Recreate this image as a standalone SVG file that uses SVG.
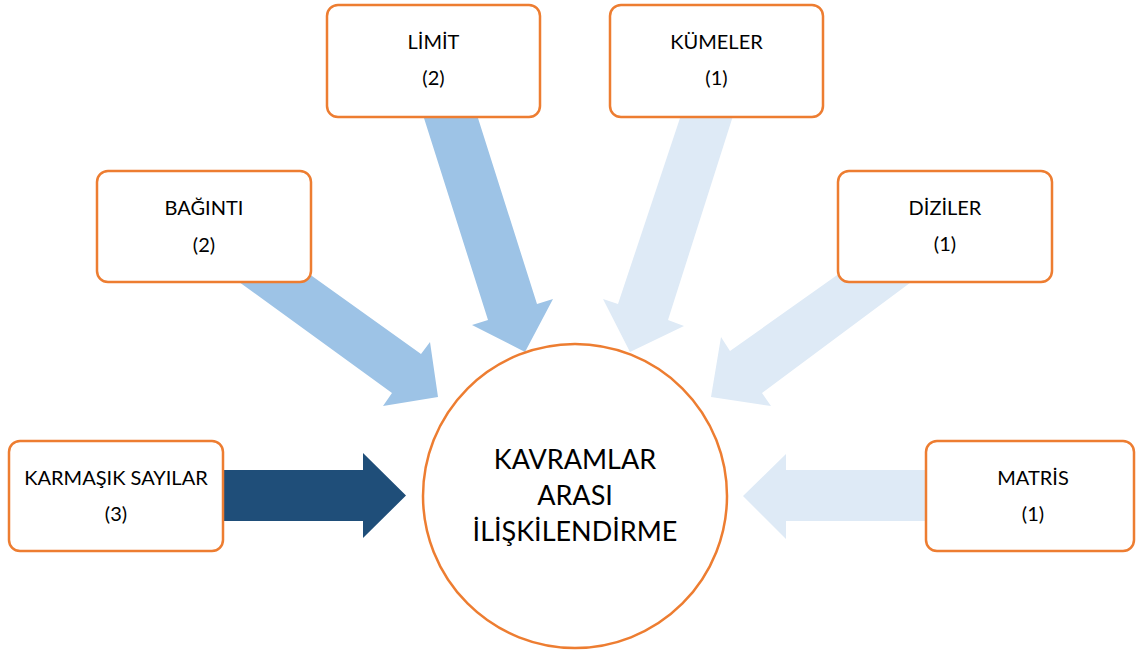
<svg xmlns="http://www.w3.org/2000/svg" width="1136" height="652" viewBox="0 0 1136 652">
  <style>
    .box { fill: #ffffff; stroke: #ED7D31; stroke-width: 2.5; }
    .lbl { font-family: Lato, "Liberation Sans", sans-serif; font-size: 20px; fill: #000000; text-anchor: middle; }
    .big { font-family: Lato, "Liberation Sans", sans-serif; font-size: 27px; fill: #000000; text-anchor: middle; }
    .mid { fill: #9DC3E6; }
    .light { fill: #DEEAF6; }
    .dark { fill: #1F4E79; }
  </style>

  <!-- block arrows pointing at the centre -->
  <g id="connectors">
    <polygon class="dark" points="215,470 363,470 363,453 406,495.5 363,538 363,521 215,521"/>
    <polygon class="light" points="935,470 786,470 786,454 743,496 786,539 786,521 935,521"/>
    <polygon class="mid" points="298,266 421,354 430,342 438,397 383,406 392,393 228,274"/>
    <polygon class="mid" points="417,96 471,96 537,304 553,299 525,352 472,325 488,320"/>
    <polygon class="light" points="687,97 739,97 668,320 684,326 630,352 603,299 618,304"/>
    <polygon class="light" points="857,261 930,268 762,393 771,406 711,397 721,337 730,351"/>
  </g>

  <g id="node-limit">
    <rect class="box" x="327" y="5" width="213" height="112" rx="11"/>
    <text class="lbl" x="433.5" y="49">LİMİT</text>
    <text class="lbl" x="433.5" y="85">(2)</text>
  </g>

  <g id="node-kumeler">
    <rect class="box" x="610" y="5" width="213" height="112" rx="11"/>
    <text class="lbl" x="716.5" y="49">KÜMELER</text>
    <text class="lbl" x="716.5" y="85">(1)</text>
  </g>

  <g id="node-baginti">
    <rect class="box" x="97" y="171" width="214" height="111" rx="11"/>
    <text class="lbl" x="204" y="215">BAĞINTI</text>
    <text class="lbl" x="204" y="252">(2)</text>
  </g>

  <g id="node-diziler">
    <rect class="box" x="838" y="171" width="214" height="111" rx="11"/>
    <text class="lbl" x="945" y="215">DİZİLER</text>
    <text class="lbl" x="945" y="251">(1)</text>
  </g>

  <g id="node-karmasik">
    <rect class="box" x="9" y="441" width="214" height="110" rx="11"/>
    <text class="lbl" x="116" y="485">KARMAŞIK SAYILAR</text>
    <text class="lbl" x="116" y="521">(3)</text>
  </g>

  <g id="node-matris">
    <rect class="box" x="926" y="441" width="208" height="110" rx="11"/>
    <text class="lbl" x="1033" y="485">MATRİS</text>
    <text class="lbl" x="1033" y="521">(1)</text>
  </g>

  <g id="node-center">
    <circle class="box" cx="575" cy="496" r="152"/>
    <text class="big" x="575" y="469">KAVRAMLAR</text>
    <text class="big" x="575" y="505">ARASI</text>
    <text class="big" x="575" y="541">İLİŞKİLENDİRME</text>
  </g>
</svg>
